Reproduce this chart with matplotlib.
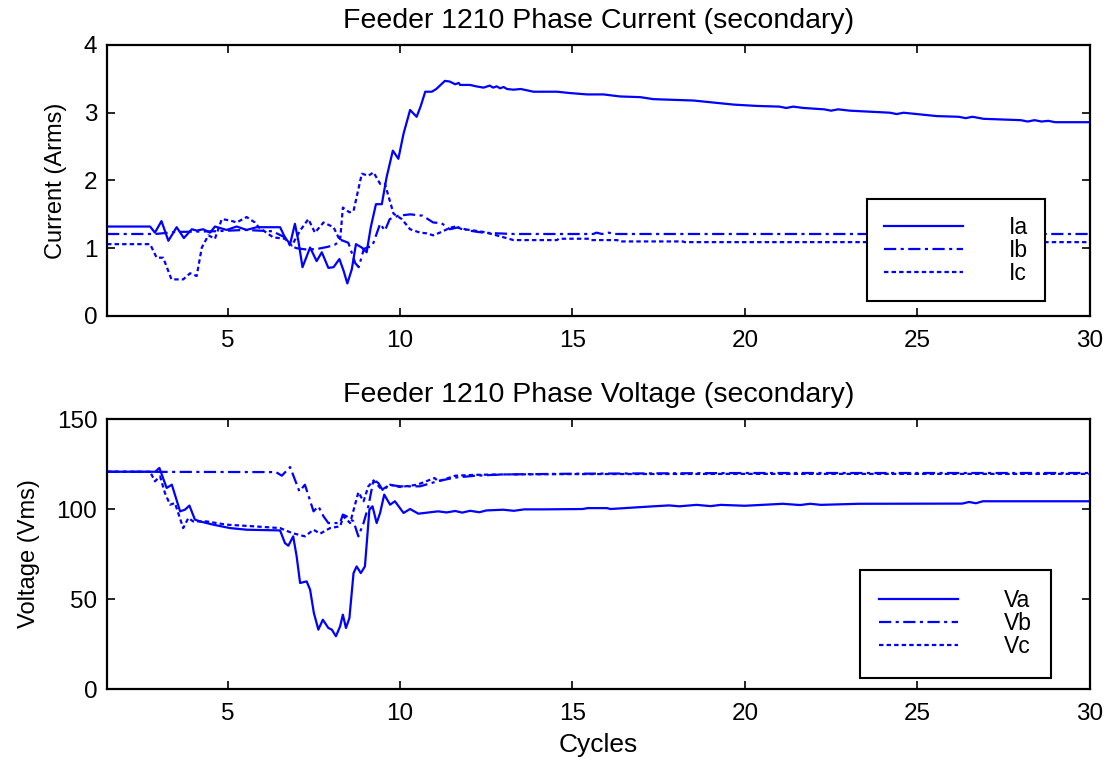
import matplotlib
matplotlib.use("Agg")
import matplotlib.pyplot as plt

plt.rcParams['font.family'] = ['Liberation Sans', 'DejaVu Sans']

# ===== current data (A rms) =====
t_ia = [1.5, 2.75, 2.89, 3.08, 3.28, 3.52, 3.73, 3.96, 4.1, 4.29, 4.49, 4.63, 4.97,
        5.26, 5.55, 5.84, 6.52, 6.66, 6.81, 6.95, 7.05, 7.17, 7.39, 7.58, 7.73, 7.92,
        8.07, 8.24, 8.36, 8.47, 8.6, 8.72, 8.89, 9.03, 9.15, 9.3, 9.47, 9.61, 9.79,
        9.95, 10.1, 10.29, 10.48, 10.6, 10.73, 10.92, 11.05, 11.3, 11.44, 11.6, 11.7,
        11.74, 12.03, 12.2, 12.42, 12.6, 12.7, 12.8, 12.9, 13.0, 13.1, 13.29, 13.5,
        13.87, 14.2, 14.55, 14.93, 15.42, 15.9, 16.38, 16.96, 17.35, 17.93, 18.51,
        19.09, 19.67, 20.35, 21.0, 21.2, 21.4, 21.7, 22.3, 22.5, 22.7, 23.05, 24.21,
        24.4, 24.6, 25.57, 26.2, 26.4, 26.6, 26.92, 28.0, 28.2, 28.4, 28.6, 28.8,
        29.0, 29.5, 30.0]
ia = [1.32, 1.32, 1.23, 1.40, 1.11, 1.31, 1.15, 1.28, 1.26, 1.28, 1.23, 1.32, 1.27,
      1.32, 1.27, 1.31, 1.31, 1.16, 1.06, 1.36, 1.11, 0.72, 1.01, 0.81, 0.94, 0.71,
      0.72, 0.84, 0.67, 0.48, 0.69, 1.06, 1.01, 0.94, 1.31, 1.65, 1.65, 2.05, 2.44,
      2.32, 2.69, 3.04, 2.94, 3.10, 3.31, 3.31, 3.35, 3.47, 3.46, 3.42, 3.44,
      3.41, 3.41, 3.39, 3.37, 3.40, 3.37, 3.39, 3.36, 3.38, 3.35, 3.34, 3.35,
      3.31, 3.31, 3.31, 3.29, 3.27, 3.27, 3.24, 3.23, 3.20, 3.19, 3.18,
      3.15, 3.12, 3.10, 3.09, 3.07, 3.09, 3.07, 3.05, 3.03, 3.05, 3.03, 3.00,
      2.98, 3.00, 2.95, 2.94, 2.92, 2.94, 2.91, 2.89, 2.87, 2.89, 2.87, 2.88,
      2.86, 2.86, 2.86]

t_ib = [1.5, 2.9, 3.5, 4.6, 5.5, 6.3, 6.66, 6.81, 7.0, 7.3, 7.6, 7.9, 8.1, 8.3, 8.5,
        8.7, 8.8, 8.95, 9.2, 9.42, 9.56, 9.7, 9.95, 10.3, 10.65, 10.96, 11.2, 11.44,
        11.7, 12.0, 12.4, 12.8, 13.3, 15.6, 15.7, 15.85, 16.05, 16.2, 30.0]
ib = [1.21, 1.21, 1.24, 1.25, 1.27, 1.25, 1.16, 1.04, 1.00, 0.98, 0.99, 1.02, 1.05,
      1.12, 1.08, 0.78, 0.72, 0.99, 1.04, 1.36, 1.26, 1.43, 1.48, 1.50, 1.48, 1.38,
      1.37, 1.28, 1.31, 1.26, 1.23, 1.22, 1.21, 1.21, 1.23, 1.21, 1.23, 1.21, 1.21]

t_ic = [1.5, 2.75, 2.94, 3.13, 3.37, 3.71, 3.91, 4.1, 4.25, 4.44, 4.63, 4.83, 5.07,
        5.26, 5.55, 5.79, 5.9, 6.32, 6.66, 6.86, 7.1, 7.34, 7.53, 7.78, 8.07, 8.26,
        8.34, 8.53, 8.65, 8.89, 9.08, 9.23, 9.42, 9.56, 9.81, 10.05, 10.29, 10.58,
        10.77, 10.96, 11.2, 11.44, 11.6, 11.8, 12.03, 12.42, 12.8, 13.29, 14.55,
        14.6, 15.5, 15.55, 16.3, 16.35, 18.2, 18.25, 30.0]
ic = [1.06, 1.06, 0.86, 0.86, 0.54, 0.54, 0.63, 0.59, 1.01, 1.19, 1.14, 1.43, 1.41,
      1.38, 1.46, 1.38, 1.31, 1.16, 1.14, 1.04, 1.26, 1.43, 1.23, 1.38, 1.31, 1.11,
      1.60, 1.53, 1.55, 2.10, 2.07, 2.12, 1.95, 1.95, 1.51, 1.43, 1.28, 1.23,
      1.22, 1.19, 1.24, 1.30, 1.32, 1.28, 1.27, 1.24, 1.19, 1.12, 1.12,
      1.14, 1.14, 1.12, 1.12, 1.10, 1.10, 1.09, 1.09]

# ===== voltage data (V rms) =====
t_va = [1.5, 2.9, 3.02, 3.23, 3.38, 3.62, 3.76, 3.89, 4.05, 4.2, 4.58, 5.07, 5.55,
        6.52, 6.66, 6.76, 6.9, 7.0, 7.1, 7.29, 7.39, 7.5, 7.63, 7.76, 7.92, 8.02,
        8.14, 8.26, 8.34, 8.43, 8.53, 8.65, 8.74, 8.86, 8.98, 9.11, 9.2, 9.32, 9.42,
        9.54, 9.71, 9.85, 10.1, 10.29, 10.53, 11.1, 11.35, 11.6, 11.8, 12.03, 12.3,
        12.5, 12.99, 13.3, 13.6, 14.18, 15.3, 15.44, 16.0, 16.1, 17.35, 17.8, 18.1,
        18.6, 19.0, 19.3, 20.0, 21.1, 21.6, 21.9, 22.2, 23.3, 26.3, 26.5, 26.7,
        26.9, 30.0]
va = [120.7, 120.7, 122.8, 111.7, 113.5, 98.7, 99.6, 101.9, 94.1, 93.1, 91.3, 89.4, 88.5,
      88.1, 81.1, 79.6, 84.8, 73.7, 58.9, 59.8, 55.2, 42.2, 33.0, 38.5, 33.9, 33.0,
      29.3, 34.8, 41.3, 33.9, 39.4, 64.4, 68.1, 64.4, 68.1, 99.6, 101.5, 92.2, 97.8,
      108.0, 102.4, 104.3, 97.8, 100.0, 97.4, 98.7, 98.1, 98.9, 98.0, 99.0, 98.2,
      99.2, 99.6, 99.0, 99.8, 99.8, 100.0, 100.5, 100.5, 100.0, 101.5, 102.0, 101.5,
      102.3, 101.6, 102.3, 101.8, 102.9, 102.2, 102.9, 102.3, 102.9, 103.0, 103.9, 103.2,
      104.3, 104.3]

t_vb = [1.5, 6.4, 6.57, 6.81, 7.08, 7.24, 7.49, 7.63, 7.78, 7.92, 8.26, 8.34, 8.45,
        8.65, 8.79, 8.94, 9.08, 9.23, 9.37, 9.52, 9.66, 10.0, 10.58, 11.1, 11.6,
        12.2, 13.0, 15.0, 20.0, 30.0]
vb = [120.7, 120.5, 118.5, 123.3, 109.8, 113.5, 98.7, 101.5, 95.9, 92.2, 92.2, 96.9,
      95.9, 93.1, 84.8, 92.2, 101.5, 116.3, 114.4, 109.8, 113.5, 112.6, 112.6, 115.5,
      117.5, 118.5, 119.2, 119.6, 120.0, 120.0]

t_vc = [1.5, 2.75, 2.89, 3.04, 3.18, 3.33, 3.47, 3.71, 3.86, 4.0, 4.39, 4.97, 5.74,
        6.52, 6.86, 7.24, 7.49, 7.68, 7.97, 8.26, 8.36, 8.55, 8.79, 8.94, 9.08, 9.23,
        9.47, 9.71, 10.0, 10.5, 11.0, 11.11, 11.6, 12.2, 13.0, 15.0, 20.0, 30.0]
vc = [120.7, 120.7, 115.4, 118.1, 108.9, 102.4, 103.3, 89.4, 95.0, 93.1, 93.1, 91.3,
      90.4, 89.4, 86.7, 84.8, 88.5, 86.3, 89.4, 90.4, 95.9, 92.2, 109.3, 104.3, 112.6,
      115.9, 110.7, 113.5, 112.2, 113.5, 117.2, 115.4, 118.5, 119.0, 119.2, 119.4,
      119.5, 119.5]

blue = '#0000ff'
lw = 1.6
dashdot = (0, (5.5, 2, 1.4, 2))
dotted = (0, (2, 1.4))

fig = plt.figure(figsize=(11.18, 7.66), dpi=100)
ax1 = fig.add_axes([0.0957, 0.5875, 0.879, 0.3538])
ax2 = fig.add_axes([0.0957, 0.1005, 0.879, 0.3525])

ax1.plot(t_ia, ia, color=blue, lw=lw, label='Ia')
ax1.plot(t_ib, ib, color=blue, lw=lw, ls=dashdot, label='Ib')
ax1.plot(t_ic, ic, color=blue, lw=lw, ls=dotted, label='Ic')
ax1.set_ylim(0, 4)
ax1.set_yticks([0, 1, 2, 3, 4])
ax1.set_ylabel('Current (Arms)', fontsize=17, labelpad=12)
ax1.set_title('Feeder 1210 Phase Current (secondary)', fontsize=20.5, pad=12)

ax2.plot(t_va, va, color=blue, lw=lw, label='Va')
ax2.plot(t_vb, vb, color=blue, lw=lw, ls=dashdot, label='Vb')
ax2.plot(t_vc, vc, color=blue, lw=lw, ls=dotted, label='Vc')
ax2.set_ylim(0, 150)
ax2.set_yticks([0, 50, 100, 150])
ax2.set_ylabel('Voltage (Vms)', fontsize=17, labelpad=12)
ax2.set_xlabel('Cycles', fontsize=19, labelpad=6)
ax2.set_title('Feeder 1210 Phase Voltage (secondary)', fontsize=20.5, pad=12)

legend_setup = ((ax1, (0.954, 0.055), 0.72), (ax2, (0.961, 0.041), 0.85))
for ax, anchor, bpad in legend_setup:
    ax.set_xlim(1.5, 30)
    ax.set_xticks([5, 10, 15, 20, 25, 30])
    ax.tick_params(direction='in', length=6, width=1.2, labelsize=17.5,
                   top=True, right=True)
    ax.tick_params(axis='x', pad=10)
    ax.tick_params(axis='y', pad=7)
    for s in ax.spines.values():
        s.set_linewidth(1.6)
    leg = ax.legend(loc='lower right', bbox_to_anchor=anchor, borderaxespad=0,
                    fontsize=16.5, handlelength=3.45, handletextpad=2.0,
                    labelspacing=0.0, borderpad=bpad, fancybox=False,
                    edgecolor='black', framealpha=1)
    leg.get_frame().set_linewidth(1.5)

fig.savefig('out.png', dpi=100)
